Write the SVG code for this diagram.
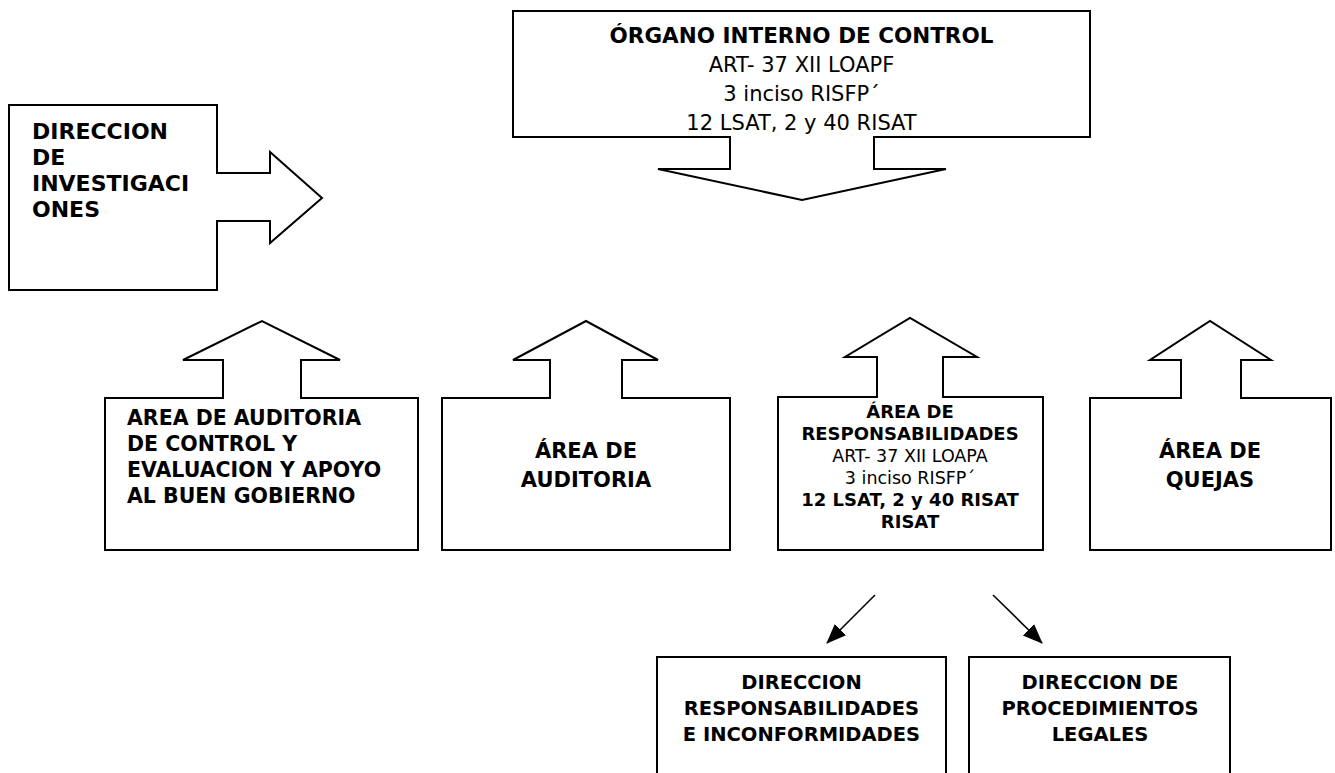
<svg xmlns="http://www.w3.org/2000/svg" width="1335" height="773" viewBox="0 0 1335 773">
<style>
.sh{fill:#fff;stroke:#000;stroke-width:2;stroke-linejoin:miter}
.b{font-family:"DejaVu Sans","Liberation Sans",sans-serif;font-weight:bold;fill:#000}
.r{font-family:"DejaVu Sans","Liberation Sans",sans-serif;fill:#000}
.c{text-anchor:middle}
.con{stroke:#000;stroke-width:1.6;fill:none}
</style>
<defs>
<marker id="ah" viewBox="0 0 10 10" refX="9" refY="5" markerWidth="10" markerHeight="10" markerUnits="userSpaceOnUse" orient="auto">
<path d="M0,0 L10,5 L0,10 Z" fill="#000"/>
</marker>
<marker id="ah2" viewBox="0 0 20 20" refX="19" refY="10" markerWidth="20" markerHeight="20" markerUnits="userSpaceOnUse" orient="auto">
<path d="M0,2 L20,10 L0,18 Z" fill="#000"/>
</marker>
</defs>
<rect width="1335" height="773" fill="#fff"/>

<g id="organo">
<path class="sh" d="M513,11 H1090 V137 H874 V169 H946 L802,200 L658,169 H730 V137 H513 Z"/>
<text class="b c" x="801.5" y="43" font-size="21.5">ÓRGANO INTERNO DE CONTROL</text>
<text class="r c" x="801.5" y="72" font-size="21">ART- 37 XII LOAPF</text>
<text class="r c" x="801.5" y="101" font-size="21">3 inciso RISFP´</text>
<text class="r c" x="801.5" y="130" font-size="21">12 LSAT, 2 y 40 RISAT</text>
</g>

<g id="investigaciones">
<path class="sh" d="M9,105 H217 V173 H270 V152 L322,198 L270,243 V221 H217 V290 H9 Z"/>
<text class="b" x="32" y="139" font-size="22">DIRECCION</text>
<text class="b" x="32" y="165" font-size="22">DE</text>
<text class="b" x="32" y="191" font-size="22">INVESTIGACI</text>
<text class="b" x="32" y="217" font-size="22">ONES</text>
</g>

<g id="auditoria-control">
<path class="sh" d="M105,398 H223 V360 H183 L262,321 L340,360 H301 V398 H418 V550 H105 Z"/>
<text class="b" x="127" y="425" font-size="20.5">AREA DE AUDITORIA</text>
<text class="b" x="127" y="451" font-size="20.5">DE CONTROL Y</text>
<text class="b" x="127" y="477" font-size="20.5">EVALUACION Y APOYO</text>
<text class="b" x="127" y="503" font-size="20.5">AL BUEN GOBIERNO</text>
</g>

<g id="auditoria">
<path class="sh" d="M442,398 H550 V360 H513 L586,321 L658,360 H622 V398 H730 V550 H442 Z"/>
<text class="b c" x="586" y="458" font-size="21">ÁREA DE</text>
<text class="b c" x="586" y="487" font-size="21">AUDITORIA</text>
</g>

<g id="responsabilidades">
<path class="sh" d="M778,397 H877 V357 H845 L910,318 L977,357 H943 V397 H1043 V550 H778 Z"/>
<text class="b c" x="910" y="418" font-size="18">ÁREA DE</text>
<text class="b c" x="910" y="440" font-size="18">RESPONSABILIDADES</text>
<text class="r c" x="910" y="462" font-size="17.5">ART- 37 XII LOAPA</text>
<text class="r c" x="910" y="484" font-size="17.5">3 inciso RISFP´</text>
<text class="b c" x="910" y="506" font-size="18">12 LSAT, 2 y 40 RISAT</text>
<text class="b c" x="910" y="528" font-size="18">RISAT</text>
</g>

<g id="quejas">
<path class="sh" d="M1090,398 H1181 V360 H1150 L1210,321 L1271,360 H1241 V398 H1331 V550 H1090 Z"/>
<text class="b c" x="1210" y="458" font-size="21">ÁREA DE</text>
<text class="b c" x="1210" y="487" font-size="21">QUEJAS</text>
</g>

<g id="dir-responsabilidades">
<path class="sh" d="M657,776 V657 H946 V776"/>
<text class="b c" x="801.5" y="689" font-size="19.5">DIRECCION</text>
<text class="b c" x="801.5" y="715" font-size="19.5">RESPONSABILIDADES</text>
<text class="b c" x="801.5" y="741" font-size="19.5">E INCONFORMIDADES</text>
</g>

<g id="dir-procedimientos">
<path class="sh" d="M969,776 V657 H1230 V776"/>
<text class="b c" x="1100" y="689" font-size="19.5">DIRECCION DE</text>
<text class="b c" x="1100" y="715" font-size="19.5">PROCEDIMIENTOS</text>
<text class="b c" x="1100" y="741" font-size="19.5">LEGALES</text>
</g>

<g id="connectors">
<line class="con" x1="875" y1="595" x2="827" y2="643" marker-end="url(#ah2)"/>
<line class="con" x1="993" y1="595" x2="1042" y2="643" marker-end="url(#ah2)"/>
</g>
</svg>
